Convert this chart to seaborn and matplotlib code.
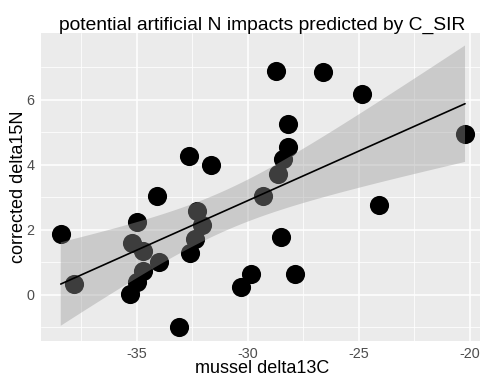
import numpy as np
import pandas as pd
import matplotlib
matplotlib.use("Agg")
import matplotlib.pyplot as plt
import seaborn as sns
from matplotlib.ticker import FixedLocator, MultipleLocator

# ---- data ----
mussel_delta13C = [-38.42, -37.82, -35.00, -34.07, -35.23, -34.73, -33.98, -34.73,
                   -35.00, -35.30, -33.08, -32.64, -31.65, -32.30, -32.07, -32.37,
                   -32.60, -29.32, -28.62, -28.40, -28.20, -28.17, -28.74, -26.60,
                   -24.85, -20.21, -24.09, -28.51, -29.86, -30.30, -27.87]
corrected_delta15N = [1.86, 0.32, 2.22, 3.04, 1.59, 1.34, 1.01, 0.72,
                      0.39, 0.02, -0.99, 4.27, 3.98, 2.58, 2.14, 1.70,
                      1.29, 3.03, 3.70, 4.17, 4.53, 5.25, 6.89, 6.86,
                      6.18, 4.93, 2.75, 1.77, 0.62, 0.22, 0.62]
x_ticks = [-35, -30, -25, -20]
y_ticks = [0, 2, 4, 6]
title_text = "potential artificial N impacts predicted by C_SIR"
x_label = "mussel delta13C"
y_label = "corrected delta15N"

df = pd.DataFrame({x_label: mussel_delta13C, y_label: corrected_delta15N})

sns.set_theme(style="darkgrid", rc={
    "axes.facecolor": "#EBEBEB",
    "grid.color": "white",
    "axes.edgecolor": "none",
})
plt.rcParams['font.family'] = ['Liberation Sans', 'DejaVu Sans']
plt.rcParams['axes.unicode_minus'] = False

W, H = 480, 378
fig = plt.figure(figsize=(W / 100, H / 100), dpi=100)
fig.patch.set_facecolor("white")
left, right, top, bottom = 41, 483, 33, 340.7
ax = fig.add_axes([left / W, 1 - bottom / H, (right - left) / W, (bottom - top) / H])

# points + fitted line (seaborn)
sns.regplot(data=df, x=x_label, y=y_label, ax=ax, ci=None,
            scatter_kws=dict(s=190, color="black", linewidths=0, alpha=1, zorder=1),
            line_kws=dict(color="black", linewidth=1.2, zorder=3))

# analytic 95% confidence band of the OLS fit (as ggplot's geom_smooth(method="lm"))
xv = np.asarray(mussel_delta13C, float)
yv = np.asarray(corrected_delta15N, float)
n = len(xv)
b1, b0 = np.polyfit(xv, yv, 1)
resid = yv - (b0 + b1 * xv)
s = np.sqrt(np.sum(resid ** 2) / (n - 2))
grid = np.linspace(xv.min(), xv.max(), 100)
se = s * np.sqrt(1 / n + (grid - xv.mean()) ** 2 / np.sum((xv - xv.mean()) ** 2))
tcrit = 2.045  # t(0.975, df=29)
fit = b0 + b1 * grid
ax.fill_between(grid, fit - tcrit * se, fit + tcrit * se, facecolor="#999999",
                alpha=0.4, edgecolor="none", zorder=2)

ax.set_xlim(-39.31, -19.40)
ax.set_ylim(-1.42, 8.05)
ax.xaxis.set_major_locator(FixedLocator(x_ticks))
ax.yaxis.set_major_locator(FixedLocator(y_ticks))
ax.xaxis.set_minor_locator(MultipleLocator(2.5))
ax.yaxis.set_minor_locator(FixedLocator([-1, 1, 3, 5, 7]))
ax.grid(which="major", color="white", linewidth=1.1)
ax.grid(which="minor", color="white", linewidth=0.55)
ax.set_axisbelow(True)
ax.tick_params(which="major", length=3.5, width=0.8, color="#333333",
               labelcolor="#4D4D4D", labelsize=10.4, pad=1.1)
ax.tick_params(which="minor", length=0)
for sp in ax.spines.values():
    sp.set_visible(False)

ax.set_xlabel(x_label, fontsize=13, color="black")
ax.set_ylabel(y_label, fontsize=13, color="black")
ax_w, ax_h = right - left, bottom - top
ax.xaxis.set_label_coords((262 - left) / ax_w, -(360.0 - bottom) / ax_h)
ax.yaxis.set_label_coords(-(left - 27.0) / ax_w, 0.5)
ax.set_title(title_text, fontsize=13.9, color="black", pad=2.5)

fig.savefig("out.png", dpi=100)
